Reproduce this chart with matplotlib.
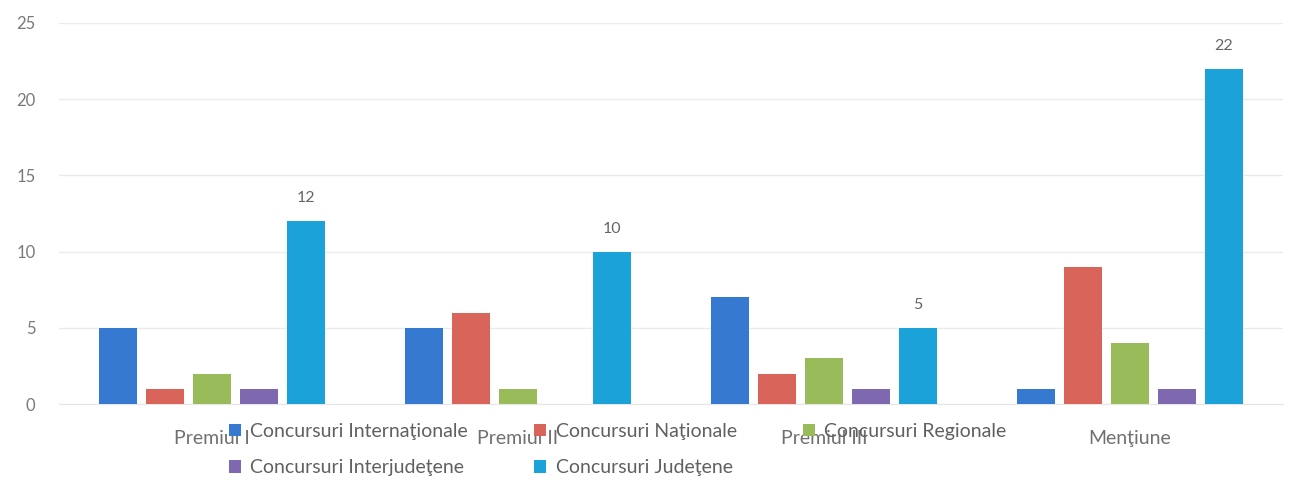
import numpy as np
import matplotlib
matplotlib.use("Agg")
import matplotlib.pyplot as plt

plt.rcParams['font.family'] = ['Lato', 'DejaVu Sans']

categories = ['Premiul I', 'Premiul II', 'Premiul III', 'Menţiune']
series_names = ['Concursuri Internaţionale', 'Concursuri Naţionale',
                'Concursuri Regionale', 'Concursuri Interjudeţene',
                'Concursuri Judeţene']
internationale = [5, 5, 7, 1]
nationale = [1, 6, 2, 9]
regionale = [2, 1, 3, 4]
interjudetene = [1, 0, 1, 1]
judetene = [12, 10, 5, 22]
colors = ['#3579d0', '#d9645a', '#9abb59', '#7e69b1', '#1ba3d9']

values = [internationale, nationale, regionale, interjudetene, judetene]

fig = plt.figure(figsize=(12.94, 5.03), dpi=100)
ax = fig.add_axes([0.0456, 0.1968, 0.9459, 0.7575])

x = np.arange(len(categories))
step = 0.1536
width = 0.121
bars = []
for i, (vals, name, col) in enumerate(zip(values, series_names, colors)):
    b = ax.bar(x + (i - 2) * step, vals, width, color=col, label=name, zorder=3)
    bars.append(b)

# only the last series carries value labels
for rect, v in zip(bars[-1], judetene):
    ax.annotate(str(v), (rect.get_x() + rect.get_width() / 2, v),
                xytext=(0, 16.5), textcoords='offset points',
                ha='center', va='center', fontsize=11.5, color='#666666')

ax.set_xlim(-0.5, 3.5)
ax.set_ylim(0, 25)
ax.set_yticks([0, 5, 10, 15, 20, 25])
ax.yaxis.grid(True, color='#ebebeb', linewidth=1, zorder=0)
ax.set_xticks(x)
ax.set_xticklabels(categories, fontsize=14, color='#707070')
ax.tick_params(axis='x', length=0, pad=19)
ax.tick_params(axis='y', length=0, pad=17, labelsize=12, labelcolor='#7a7a7a')
for s in ['top', 'right', 'left']:
    ax.spines[s].set_visible(False)
ax.spines['bottom'].set_color('#e6e6e6')

# legend is filled column by column, so reorder to read row by row
order = [0, 3, 1, 4, 2]
handles = [bars[k] for k in order]
labels = [series_names[k] for k in order]
leg = fig.legend(handles, labels, loc='upper left',
                 bbox_to_anchor=(229 / 1294, 1 - 423 / 503),
                 ncol=3, frameon=False, fontsize=14, handlelength=0.6,
                 handleheight=0.6, handletextpad=0.5, columnspacing=3.4,
                 labelspacing=1.0, borderpad=0, borderaxespad=0)
for t in leg.get_texts():
    t.set_color('#606060')

fig.savefig('out.png', dpi=100, facecolor='white')
